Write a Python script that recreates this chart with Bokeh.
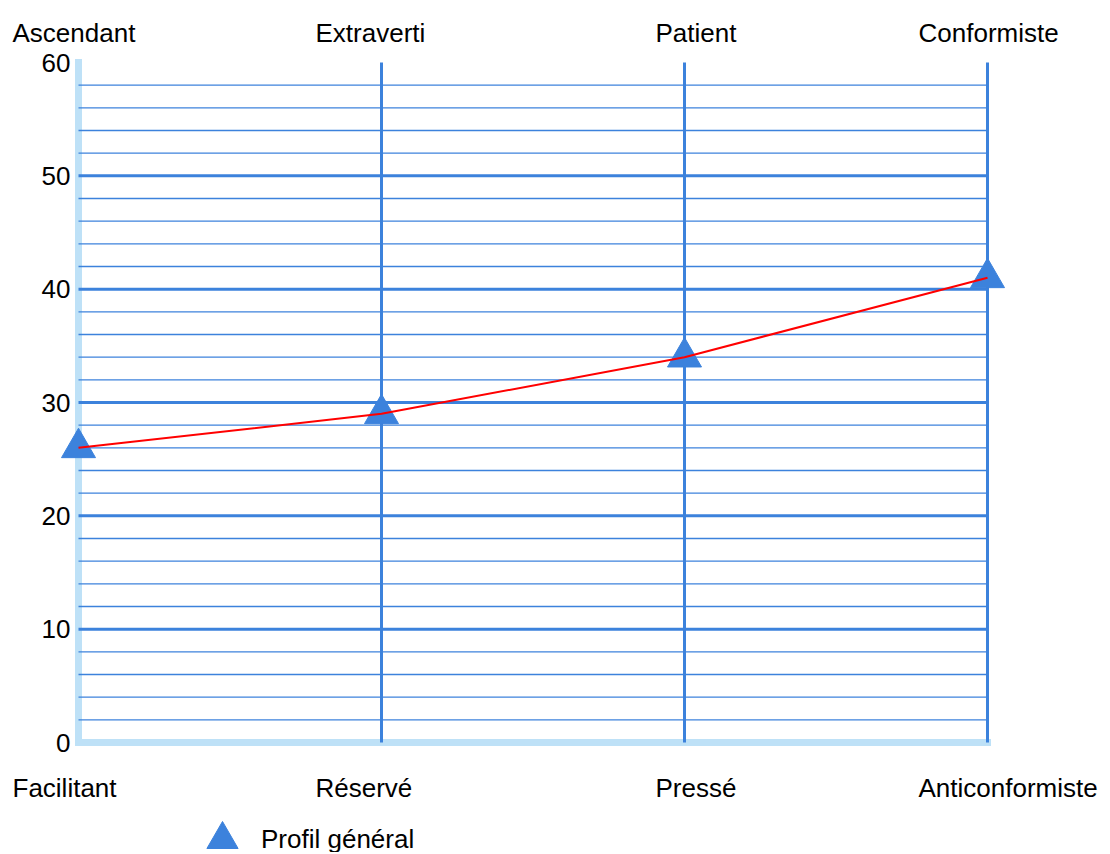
from bokeh.plotting import figure
from bokeh.models import Range1d, Legend, LegendItem
from bokeh.core.properties import value
from bokeh.embed import file_html
from bokeh.resources import INLINE

# ---- data ----
top_labels = ["Ascendant", "Extraverti", "Patient", "Conformiste"]
bottom_labels = ["Facilitant", "Réservé", "Pressé", "Anticonformiste"]
scores = [26, 29, 34, 41]
series_name = "Profil général"
y_ticks = [0, 10, 20, 30, 40, 50, 60]
y_max = 60
minor_step = 2

# ---- style / layout ----
label_dx = [-66, -66, -29, -69]
FONT = "Liberation Sans"
BLUE = "#3C82DC"
LIGHT = "#BEE1F7"
FS = "26px"
W, H = 1108, 852
BOX_L, BOX_R, BOX_T, BOX_B = 78, 987, 62, 742

x = list(range(len(scores)))
n = len(x)

px_x = (BOX_R - BOX_L) / (n - 1)
px_y = (BOX_B - BOX_T) / y_max
x_range = Range1d(0 - BOX_L / px_x, (n - 1) + (W - BOX_R) / px_x)
y_range = Range1d(0 - (H - BOX_B) / px_y, y_max + BOX_T / px_y)

p = figure(width=W, height=H, x_range=x_range, y_range=y_range,
           x_axis_type=None, y_axis_type=None,
           output_backend="svg", toolbar_location=None,
           min_border=0, min_border_left=0, min_border_right=0,
           min_border_top=0, min_border_bottom=0)
p.outline_line_color = None
p.grid.visible = False

# light blue frame bars (left + bottom)
p.segment(x0=[0, 0], y0=[0, 0], x1=[0, n - 1], y1=[y_max, 0],
          line_width=7, line_color=LIGHT, line_cap="square")

# horizontal minor / major lines
minor_y = [v for v in range(minor_step, y_max, minor_step) if v % 10 != 0]
major_y = [v for v in y_ticks if 0 < v < y_max]
p.segment(x0=[0] * len(minor_y), y0=minor_y, x1=[n - 1] * len(minor_y), y1=minor_y,
          line_width=1.3, line_color=BLUE)
p.segment(x0=[0] * len(major_y), y0=major_y, x1=[n - 1] * len(major_y), y1=major_y,
          line_width=3, line_color=BLUE)
# vertical category lines
vx = x[1:]
p.segment(x0=vx, y0=[0] * len(vx), x1=vx, y1=[y_max] * len(vx),
          line_width=3, line_color=BLUE)

# y tick labels
p.text(x=[0] * len(y_ticks), y=y_ticks, text=[str(t) for t in y_ticks],
       x_offset=-8, text_align="right", text_baseline="middle",
       text_font=value(FONT), text_font_size=value(FS), text_color="black")

# category labels (top & bottom)
p.text(x=x, y=[y_max] * n, text=top_labels, x_offset=label_dx, y_offset=-30,
       text_align="left", text_baseline="alphabetic",
       text_font=value(FONT), text_font_size=value(FS), text_color="black")
p.text(x=x, y=[0] * n, text=bottom_labels, x_offset=label_dx, y_offset=45,
       text_align="left", text_baseline="alphabetic",
       text_font=value(FONT), text_font_size=value(FS), text_color="black")

r = p.scatter(x, scores, marker="triangle", size=34, fill_color=BLUE, line_color=BLUE)
p.line(x, scores, line_color="red", line_width=2)

legend = Legend(items=[LegendItem(label=series_name, renderers=[r])],
                location=(183, H - 78 - 800), glyph_width=78, glyph_height=78, label_height=78,
                label_standoff=0, padding=0, margin=0, spacing=0,
                border_line_color=None, background_fill_alpha=0,
                label_text_font=FONT, label_text_font_size=FS, label_text_color="black")
p.add_layout(legend, "center")

open("out.html", "w").write(file_html(p, INLINE))
